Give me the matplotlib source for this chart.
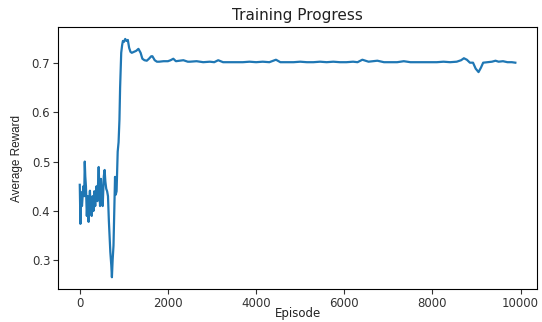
import numpy as np
import matplotlib
matplotlib.use("Agg")
import matplotlib.pyplot as plt

# moving average reward
episodes = [0, 15, 30, 50, 80, 100, 113, 125, 140, 160, 180, 200, 215, 230,
            250, 270, 290, 310, 330, 350, 380, 400, 429, 445, 460, 480, 500,
            520, 545, 564, 580, 600, 620, 640, 660, 693, 715, 729, 745, 765,
            785, 800, 815, 835, 860, 880, 900, 915, 940, 960, 978, 1000, 1031,
            1060, 1090, 1120, 1150, 1180, 1230, 1280, 1331, 1380, 1420, 1467,
            1520, 1570, 1620, 1648, 1700, 1750, 1800, 1900, 2000, 2060, 2122,
            2180, 2260, 2350, 2450,
            2500, 2650, 2800, 2950, 3050, 3140, 3250, 3400, 3550, 3700, 3850,
            4000, 4150, 4300, 4450, 4550, 4700, 4850, 5000, 5150, 5300, 5450,
            5600, 5750, 5900, 6050, 6200, 6300, 6410, 6550, 6750, 6900, 7050,
            7200, 7350, 7500, 7650, 7800, 7950, 8100, 8250, 8400, 8550, 8650,
            8713, 8780, 8850, 8920, 8980, 9045, 9100, 9150, 9250, 9350, 9430,
            9500, 9600, 9700, 9800, 9880]
rewards = [0.453, 0.374, 0.438, 0.41, 0.45, 0.43, 0.500, 0.47, 0.45, 0.39,
           0.43, 0.378, 0.42, 0.441, 0.40, 0.39, 0.43, 0.40, 0.44, 0.41, 0.45,
           0.42, 0.489, 0.44, 0.41, 0.465, 0.43, 0.41, 0.47, 0.483, 0.46,
           0.445, 0.44, 0.43, 0.38, 0.317, 0.29, 0.266, 0.30, 0.33, 0.411,
           0.469, 0.433, 0.44, 0.52, 0.539, 0.585, 0.65, 0.72, 0.735, 0.744,
           0.742, 0.748, 0.744, 0.746, 0.73, 0.722, 0.72, 0.722, 0.724, 0.728,
           0.72, 0.708, 0.705, 0.704, 0.708, 0.713, 0.713, 0.705, 0.702,
           0.702, 0.703, 0.703, 0.705, 0.708, 0.703, 0.704, 0.705, 0.702,
           0.702, 0.703, 0.701, 0.702, 0.701, 0.705, 0.701, 0.701, 0.701,
           0.701, 0.702, 0.701, 0.702, 0.701, 0.706, 0.701, 0.701, 0.701,
           0.702, 0.701, 0.701, 0.702, 0.701, 0.702, 0.701, 0.701, 0.702,
           0.701, 0.706, 0.702, 0.704, 0.701, 0.701, 0.701, 0.703, 0.701,
           0.701, 0.701, 0.701, 0.701, 0.702, 0.701, 0.702, 0.705, 0.709,
           0.706, 0.700, 0.700, 0.688, 0.681, 0.690, 0.700, 0.701, 0.702,
           0.704, 0.702, 0.703, 0.701, 0.701, 0.700]

fig = plt.figure(figsize=(5.42, 3.22), dpi=100)
ax = fig.add_axes([0.107, 0.102, 0.884, 0.814])

ax.plot(episodes, rewards, color="#1f77b4", linewidth=1.6)

ax.set_title("Training Progress", fontsize=11, color="#222222", pad=5)
ax.set_xlabel("Episode", fontsize=8.5, color="#222222", labelpad=-2)
ax.set_ylabel("Average Reward", fontsize=8.5, family="Liberation Sans",
              color="#222222", labelpad=6)
ax.tick_params(labelsize=8.5, colors="#333333", length=3.5, pad=2)
ax.set_yticks([0.3, 0.4, 0.5, 0.6, 0.7])

fig.savefig("out.png", dpi=100)
